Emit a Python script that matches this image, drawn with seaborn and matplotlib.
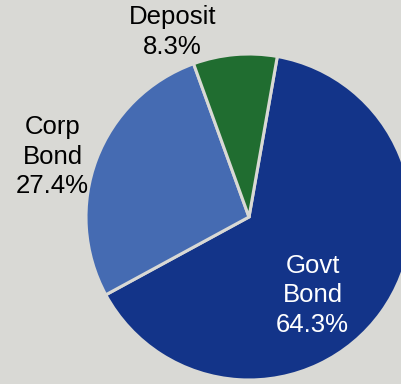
import matplotlib
matplotlib.use("Agg")
import matplotlib.pyplot as plt
import seaborn as sns

# Portfolio allocation by asset class
categories = ["Govt\nBond", "Corp\nBond", "Deposit"]
shares = [64.3, 27.4, 8.3]
colors = ["#133489", "#456bb2", "#206d30"]
bg = "#d9d9d5"

sns.set_theme(style="white")
plt.rcParams["font.family"] = ["Liberation Sans", "DejaVu Sans"]

fig = plt.figure(figsize=(4.01, 3.84), dpi=100, facecolor=bg)
ax = fig.add_axes([0, 0, 1, 1])
ax.set_facecolor(bg)

wedges, _ = ax.pie(
    shares,
    colors=colors,
    startangle=80,
    counterclock=False,
    radius=1.0,
    wedgeprops=dict(edgecolor=bg, linewidth=2.2),
)

# label text built from the same values as the wedges
labels = [f"{c}\n{v:.1f}%" for c, v in zip(categories, shares)]
label_pos = [(0.39, -0.48), (-1.205, 0.37), (-0.47, 1.135)]
label_col = ["white", "black", "black"]
for txt, (x, y), col in zip(labels, label_pos, label_col):
    ax.text(x, y, txt, ha="center", va="center", multialignment="center",
            fontsize=18.5, color=col, linespacing=1.3)

ax.set_xlim(-249 / 163, (401 - 249) / 163)
ax.set_ylim((217 - 384) / 163, 217 / 163)
ax.set_aspect("auto")
ax.axis("off")

fig.savefig("out.png", dpi=100, facecolor=bg)
